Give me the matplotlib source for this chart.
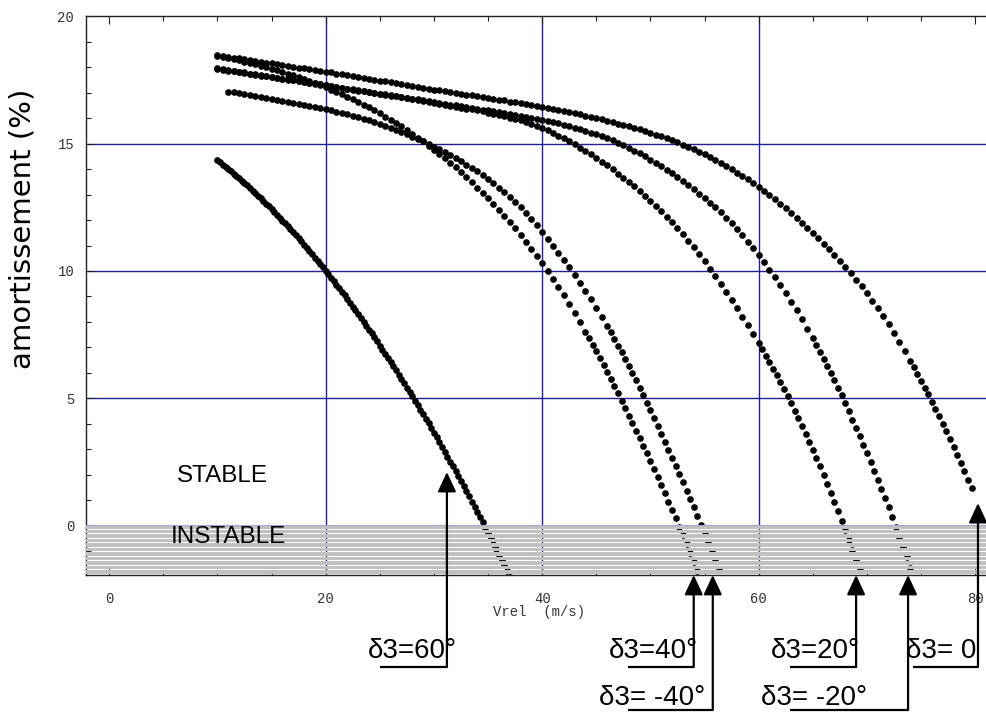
import numpy as np
import matplotlib
matplotlib.use("Agg")
import matplotlib.pyplot as plt
from matplotlib.ticker import MultipleLocator
from matplotlib.lines import Line2D

# ---------------- data ----------------
# damping (%) versus Vrel (m/s). Each curve: a flat part sampled every 0.5 m/s
# and a steep tail sampled every 1/3 m/s (the delta3=60 curve every 0.25 m/s).
start_60, step_60 = 10.0, 0.25
amort_60 = [14.35, 14.27, 14.18, 14.09, 14.01, 13.92, 13.83, 13.73, 13.64, 13.55,
            13.45, 13.36, 13.26, 13.16, 13.06, 12.96, 12.85, 12.75, 12.64, 12.54,
            12.43, 12.32, 12.21, 12.10, 11.98, 11.87, 11.75, 11.64, 11.52, 11.40,
            11.28, 11.16, 11.03, 10.91, 10.78, 10.66, 10.53, 10.40, 10.27, 10.14,
            10.00, 9.87, 9.73, 9.60, 9.46, 9.32, 9.18, 9.04, 8.89, 8.75,
            8.60, 8.45, 8.31, 8.16, 8.01, 7.85, 7.70, 7.55, 7.39, 7.23,
            7.07, 6.91, 6.75, 6.59, 6.43, 6.26, 6.10, 5.93, 5.76, 5.59,
            5.42, 5.25, 5.08, 4.90, 4.72, 4.55, 4.37, 4.19, 4.01, 3.83,
            3.64, 3.46, 3.27, 3.08, 2.90, 2.71, 2.51, 2.32, 2.13, 1.93,
            1.74, 1.54, 1.34, 1.14, 0.94, 0.74, 0.53, 0.33, 0.12, -0.09,
            -0.29, -0.50, -0.72, -0.93, -1.14, -1.36, -1.57, -1.79, -2.01]

# delta3 = 40 deg
start_40 = 10.0
amort_40 = [18.45, 18.41, 18.37, 18.32, 18.28, 18.23, 18.18, 18.13, 18.07, 18.01,
            17.95, 17.89, 17.82, 17.76, 17.69, 17.62, 17.54, 17.46, 17.38, 17.30,
            17.22, 17.13, 17.04, 16.95, 16.85, 16.75, 16.65, 16.54, 16.43, 16.31,
            16.20, 16.07, 15.95, 15.81, 15.68, 15.54, 15.39, 15.24, 15.09, 14.93,
            14.77, 14.60, 14.43, 14.25, 14.07, 13.88, 13.68, 13.48, 13.28, 13.07,
            12.85, 12.63, 12.40, 12.17, 11.92, 11.67, 11.41, 11.14, 10.87, 10.59,
            10.30, 10.00, 9.69, 9.37, 9.04, 8.70, 8.35, 7.99]
tail_start_40 = 44.0
tail_40 = [7.62, 7.36, 7.10, 6.84, 6.57, 6.30, 6.03, 5.75, 5.47, 5.19,
           4.90, 4.61, 4.32, 4.03, 3.73, 3.43, 3.13, 2.83, 2.52, 2.21,
           1.89, 1.58, 1.26, 0.94, 0.62, 0.29, -0.05, -0.39, -0.74, -1.08,
           -1.44, -1.80]

# delta3 = -40 deg
start_m40 = 11.0
amort_m40 = [17.05, 17.02, 16.98, 16.95, 16.91, 16.88, 16.84, 16.80, 16.77, 16.73,
             16.69, 16.65, 16.61, 16.57, 16.53, 16.49, 16.45, 16.40, 16.36, 16.31,
             16.26, 16.21, 16.16, 16.10, 16.04, 15.98, 15.92, 15.85, 15.78, 15.70,
             15.62, 15.54, 15.46, 15.37, 15.28, 15.19, 15.09, 14.99, 14.89, 14.78,
             14.67, 14.55, 14.43, 14.31, 14.18, 14.05, 13.91, 13.76, 13.60, 13.44,
             13.27, 13.09, 12.90, 12.71, 12.51, 12.28, 12.04, 11.79, 11.53, 11.27,
             11.00, 10.72, 10.43, 10.14, 9.84, 9.53, 9.22, 8.89, 8.55, 8.20]
tail_start_m40 = 46.0
tail_m40 = [7.84, 7.59, 7.33, 7.07, 6.80, 6.53, 6.26, 5.98, 5.70, 5.41,
            5.12, 4.82, 4.52, 4.22, 3.92, 3.61, 3.30, 2.98, 2.67, 2.35,
            2.03, 1.70, 1.37, 1.04, 0.71, 0.37, 0.03, -0.32, -0.67, -1.03,
            -1.38, -1.74]

# delta3 = 20 deg
start_20 = 10.0
amort_20 = [17.93, 17.90, 17.87, 17.84, 17.81, 17.78, 17.74, 17.71, 17.68, 17.65,
            17.62, 17.59, 17.55, 17.52, 17.49, 17.46, 17.42, 17.39, 17.36, 17.33,
            17.29, 17.26, 17.23, 17.19, 17.16, 17.13, 17.09, 17.06, 17.03, 16.99,
            16.96, 16.92, 16.89, 16.86, 16.82, 16.79, 16.75, 16.72, 16.68, 16.65,
            16.61, 16.57, 16.54, 16.50, 16.46, 16.42, 16.38, 16.35, 16.31, 16.27,
            16.22, 16.18, 16.13, 16.08, 16.03, 15.98, 15.92, 15.85, 15.78, 15.70,
            15.62, 15.53, 15.43, 15.32, 15.22, 15.10, 14.98, 14.85, 14.72, 14.58,
            14.44, 14.29, 14.15, 13.99, 13.83, 13.67, 13.51, 13.33, 13.15, 12.96,
            12.77, 12.56, 12.35, 12.13, 11.91, 11.68, 11.44, 11.19, 10.93, 10.66,
            10.38, 10.09, 9.80, 9.50, 9.19, 8.87, 8.54, 8.21, 7.87, 7.52]
tail_start_20 = 60.0
tail_20 = [7.17, 6.92, 6.67, 6.42, 6.16, 5.90, 5.63, 5.36, 5.08, 4.80,
           4.51, 4.21, 3.91, 3.60, 3.29, 2.97, 2.65, 2.32, 1.98, 1.64,
           1.28, 0.92, 0.56, 0.19, -0.19, -0.57, -0.95, -1.34, -1.73]

# delta3 = -20 deg
start_m20 = 10.0
amort_m20 = [17.96, 17.93, 17.89, 17.86, 17.83, 17.80, 17.76, 17.73, 17.70, 17.66,
             17.63, 17.60, 17.56, 17.53, 17.50, 17.47, 17.43, 17.40, 17.37, 17.33,
             17.30, 17.27, 17.23, 17.20, 17.17, 17.14, 17.10, 17.07, 17.04, 17.00,
             16.97, 16.94, 16.90, 16.87, 16.84, 16.81, 16.77, 16.74, 16.71, 16.67,
             16.64, 16.61, 16.57, 16.54, 16.51, 16.47, 16.44, 16.41, 16.38, 16.34,
             16.31, 16.28, 16.24, 16.21, 16.18, 16.14, 16.11, 16.07, 16.03, 15.98,
             15.94, 15.89, 15.85, 15.80, 15.75, 15.69, 15.63, 15.57, 15.51, 15.44,
             15.37, 15.30, 15.22, 15.13, 15.04, 14.94, 14.84, 14.73, 14.62, 14.50,
             14.38, 14.25, 14.12, 13.98, 13.84, 13.69, 13.54, 13.38, 13.21, 13.04,
             12.87, 12.69, 12.50, 12.30, 12.09, 11.87, 11.64, 11.40, 11.15, 10.89,
             10.62, 10.34, 10.05, 9.75, 9.44, 9.12, 8.79, 8.45, 8.10, 7.74]
tail_start_m20 = 65.0
tail_m20 = [7.37, 7.10, 6.83, 6.56, 6.28, 6.00, 5.70, 5.41, 5.11, 4.80,
            4.48, 4.16, 3.83, 3.50, 3.17, 2.84, 2.50, 2.15, 1.80, 1.44,
            1.08, 0.71, 0.33, -0.05, -0.44, -0.84, -1.24, -1.66]

# delta3 = 0 deg
start_0 = 10.0
amort_0 = [18.48, 18.45, 18.42, 18.38, 18.35, 18.32, 18.29, 18.25, 18.22, 18.19,
           18.16, 18.12, 18.09, 18.06, 18.03, 17.99, 17.96, 17.93, 17.90, 17.86,
           17.83, 17.80, 17.76, 17.73, 17.69, 17.66, 17.62, 17.59, 17.55, 17.52,
           17.48, 17.45, 17.41, 17.38, 17.34, 17.31, 17.27, 17.24, 17.20, 17.17,
           17.13, 17.10, 17.06, 17.03, 17.00, 16.96, 16.93, 16.90, 16.86, 16.83,
           16.80, 16.76, 16.73, 16.70, 16.66, 16.63, 16.60, 16.56, 16.53, 16.49,
           16.46, 16.42, 16.38, 16.33, 16.29, 16.24, 16.20, 16.15, 16.11, 16.06,
           16.01, 15.96, 15.90, 15.85, 15.79, 15.74, 15.68, 15.62, 15.56, 15.50,
           15.43, 15.36, 15.29, 15.21, 15.13, 15.05, 14.97, 14.88, 14.79, 14.69,
           14.59, 14.48, 14.37, 14.25, 14.13, 14.00, 13.87, 13.74, 13.60, 13.45,
           13.30, 13.14, 12.98, 12.81, 12.64, 12.46, 12.28, 12.09, 11.90, 11.70,
           11.50, 11.29, 11.07, 10.85, 10.62, 10.39, 10.15, 9.91, 9.66, 9.40,
           9.14, 8.84, 8.53, 8.22, 7.90, 7.56, 7.21, 6.85]
tail_start_0 = 74.0
tail_0 = [6.48, 6.22, 5.96, 5.69, 5.42, 5.15, 4.87, 4.58, 4.29, 4.00,
          3.70, 3.40, 3.09, 2.78, 2.46, 2.13, 1.80, 1.46]

head_step = 0.5
tail_step = 1.0 / 3.0
segments = [(start_60, step_60, amort_60),
            (start_40, head_step, amort_40), (tail_start_40, tail_step, tail_40),
            (start_m40, head_step, amort_m40), (tail_start_m40, tail_step, tail_m40),
            (start_20, head_step, amort_20), (tail_start_20, tail_step, tail_20),
            (start_m20, head_step, amort_m20), (tail_start_m20, tail_step, tail_m20),
            (start_0, head_step, amort_0), (tail_start_0, tail_step, tail_0)]

x_ticks = [0, 20, 40, 60, 80]
y_ticks = [0, 5, 10, 15, 20]
grid_x = [20, 40, 60]
grid_y = [5, 10, 15]

# annotations: label, arrow tip (data)
ann_labels = ["δ3=60°", "δ3=40°", "δ3= -40°", "δ3=20°", "δ3= -20°", "δ3= 0"]
ann_tip_x = [31.2, 54.0, 55.76, 69.0, 73.8, 80.26]
ann_tip_y = [2.1, -1.945, -1.945, -1.945, -1.945, 0.88]

# ---------------- layout (pixels of the 986x713 canvas) ----------------
W, H = 986, 713
ann_text_left = [368, 609, 599, 771, 761, 906]
ann_text_base = [658, 658, 705, 658, 705, 658]
ann_line_y = [667, 667, 710, 667, 710, 667]
ann_line_x0 = [380, 628, 628, 790, 790, 913]
SANS = ["Liberation Sans", "DejaVu Sans"]
MONO = ["Liberation Mono", "DejaVu Sans Mono"]

fig = plt.figure(figsize=(W / 100, H / 100), dpi=100)
ax = fig.add_axes([86 / W, 1 - 575 / H, (W - 86) / W, (575 - 16.5) / H])
ax.set_xlim(-2.14, 81.0)
ax.set_ylim(-1.945, 20.0)

grid_col = "#1f1f9e"
for gx in grid_x:
    ax.axvline(gx, color=grid_col, lw=1.0, zorder=1)
for gy in grid_y:
    ax.axhline(gy, color=grid_col, lw=1.0, zorder=1)

for x0, st, yv in segments:
    xv = x0 + st * np.arange(len(yv))
    ax.plot(xv, yv, "o", ms=4.8, color="black", mew=0, zorder=2)

# striped "unstable" band below 0 (drawn over the markers)
n_str = 11
y_bot = -1.945
period = -y_bot / n_str
gap = 0.045
for k in range(n_str):
    top = -k * period
    ax.axhspan(top - (period - gap), top, color="#c0c0c0", lw=0, zorder=3)
ax.axhline(0, color="#a8a8cc", lw=0.8, zorder=3)

ax.text(10.5, 1.95, "STABLE", ha="center", va="center", fontsize=17.5,
        family=SANS, zorder=4)
ax.text(10.97, -0.45, "INSTABLE", ha="center", va="center", fontsize=17.5,
        family=SANS, zorder=4)

# axes styling
for s in ["left", "bottom", "top"]:
    ax.spines[s].set_color("#222222")
    ax.spines[s].set_linewidth(1.0)
ax.spines["right"].set_visible(False)
ax.set_xticks(x_ticks)
ax.set_yticks(y_ticks)
ax.xaxis.set_minor_locator(MultipleLocator(5))
ax.yaxis.set_minor_locator(MultipleLocator(1))
ax.tick_params(which="both", direction="in", top=True, right=False,
               width=0.8, color="#222222")
ax.tick_params(which="major", length=6)
ax.tick_params(which="minor", length=3.5)
ax.tick_params(axis="x", pad=12, labelsize=10, labelcolor="#333333")
ax.tick_params(axis="y", pad=8.5, labelsize=10, labelcolor="#333333")
for lab in ax.get_xticklabels() + ax.get_yticklabels():
    lab.set_fontfamily(MONO)

fig.text(539 / W, 1 - 612 / H, "Vrel  (m/s)", ha="center", va="center",
         fontsize=10, family=MONO, color="#333333")
fig.text(23 / W, 1 - 229 / H, "amortissement (%)", rotation=90, ha="center",
         va="center", fontsize=21, family="DejaVu Sans")

# annotations
to_fig = fig.transFigure.inverted()
for lab, tx, ty, tl, tb, ly, lx0 in zip(ann_labels, ann_tip_x, ann_tip_y,
                                        ann_text_left, ann_text_base,
                                        ann_line_y, ann_line_x0):
    tip_fig = to_fig.transform(ax.transData.transform((tx, ty)))
    vx = tip_fig[0]
    uy = 1 - ly / H
    fig.add_artist(Line2D([lx0 / W, vx], [uy, uy], transform=fig.transFigure,
                          color="black", lw=1.6, solid_capstyle="butt"))
    ax.annotate("", xy=(tx, ty), xycoords="data", xytext=(vx, uy),
                textcoords="figure fraction", annotation_clip=False,
                arrowprops=dict(arrowstyle="-|>,head_length=0.6,head_width=0.28",
                                mutation_scale=20, lw=1.6, color="black",
                                shrinkA=0, shrinkB=0))
    fig.text(tl / W, 1 - tb / H, lab, ha="left", va="baseline", fontsize=20,
             family=SANS)

fig.savefig("out.png", dpi=100)
